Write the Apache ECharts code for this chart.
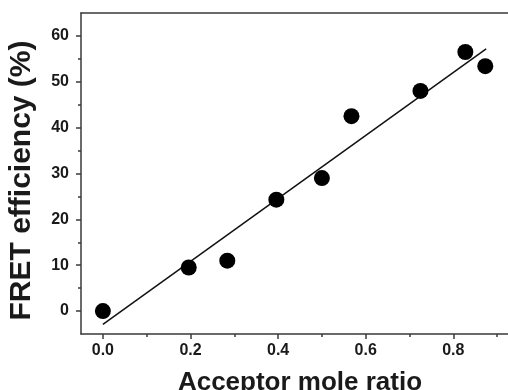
<!DOCTYPE html>
<html>
<head>
<meta charset="utf-8">
<script src="https://cdn.jsdelivr.net/npm/echarts@6/dist/echarts.min.js"></script>
<style>html,body{margin:0;padding:0;background:#fff;}#c{width:508px;height:390px;}</style>
</head>
<body>
<div id="c"></div>
<script>
// Data
var ratio = [0.0, 0.196, 0.284, 0.396, 0.5, 0.5675, 0.725, 0.8275, 0.873];
var fret  = [0.0, 9.5, 11.0, 24.3, 29.0, 42.5, 48.0, 56.5, 53.4];
var fitX = [0.0, 0.875];
var fitY = [-2.9, 57.2];
var xMajor = [0, 0.2, 0.4, 0.6, 0.8];
var xMinor = [0.1, 0.3, 0.5, 0.7, 0.9];
var yMajor = [0, 10, 20, 30, 40, 50, 60];
var yMinor = [5, 15, 25, 35, 45, 55];

var FONT = '"Liberation Sans", Arial, sans-serif';
var TXT = '#1a1a1a';
var AX = '#3a3a3a';

var chart = echarts.init(document.getElementById('c'), null, {renderer: 'canvas'});
var xBase = {type: 'value', min: -0.05, max: 0.95, splitLine: {show: false}};
var yBase = {type: 'value', min: -5, max: 65, splitLine: {show: false}};

chart.setOption({
  animation: false,
  backgroundColor: '#fff',
  grid: {left: 81, top: 13, width: 438, height: 321, containLabel: false, outerBoundsMode: 'none'},
  xAxis: [
    Object.assign({}, xBase, {
      position: 'bottom',
      name: 'Acceptor mole ratio', nameLocation: 'middle', nameGap: 36,
      nameTextStyle: {fontFamily: FONT, fontWeight: 'bold', fontSize: 26, color: TXT},
      axisLine: {show: true, onZero: false, lineStyle: {color: AX, width: 1.5}},
      axisTick: {show: true, length: 5, inside: false, customValues: xMajor, lineStyle: {color: AX, width: 1.5}},
      axisLabel: {customValues: xMajor, margin: 9, fontFamily: FONT, fontWeight: 'bold', fontSize: 16, color: TXT,
        formatter: function (v) { return v.toFixed(1); }}
    }),
    Object.assign({}, xBase, {
      position: 'bottom',
      axisLine: {show: false, onZero: false},
      axisTick: {show: true, length: 3, customValues: xMinor, lineStyle: {color: AX, width: 1.5}},
      axisLabel: {show: false}
    }),
    Object.assign({}, xBase, {
      position: 'top',
      axisLine: {show: true, onZero: false, lineStyle: {color: AX, width: 1.5}},
      axisTick: {show: false},
      axisLabel: {show: false}
    })
  ],
  yAxis: [
    Object.assign({}, yBase, {
      position: 'left',
      name: 'FRET efficiency (%)', nameLocation: 'middle', nameGap: 44,
      nameTextStyle: {fontFamily: FONT, fontWeight: 'bold', fontSize: 30, color: TXT, padding: [0, 14, 0, 0]},
      axisLine: {show: true, onZero: false, lineStyle: {color: AX, width: 1.5}},
      axisTick: {show: true, length: 5, customValues: yMajor, lineStyle: {color: AX, width: 1.5}},
      axisLabel: {customValues: yMajor, margin: 12, fontFamily: FONT, fontWeight: 'bold', fontSize: 16, color: TXT}
    }),
    Object.assign({}, yBase, {
      position: 'left',
      axisLine: {show: false, onZero: false},
      axisTick: {show: true, length: 3, customValues: yMinor, lineStyle: {color: AX, width: 1.5}},
      axisLabel: {show: false}
    })
  ],
  series: [
    {
      type: 'line',
      xAxisIndex: 0, yAxisIndex: 0,
      data: fitX.map(function (x, i) { return [x, fitY[i]]; }),
      showSymbol: false, symbol: 'none',
      lineStyle: {color: '#111', width: 1.5},
      z: 2
    },
    {
      type: 'scatter',
      xAxisIndex: 0, yAxisIndex: 0,
      data: ratio.map(function (x, i) { return [x, fret[i]]; }),
      symbol: 'circle', symbolSize: 16,
      itemStyle: {color: '#000', opacity: 1},
      z: 3
    }
  ]
});
</script>
</body>
</html>
